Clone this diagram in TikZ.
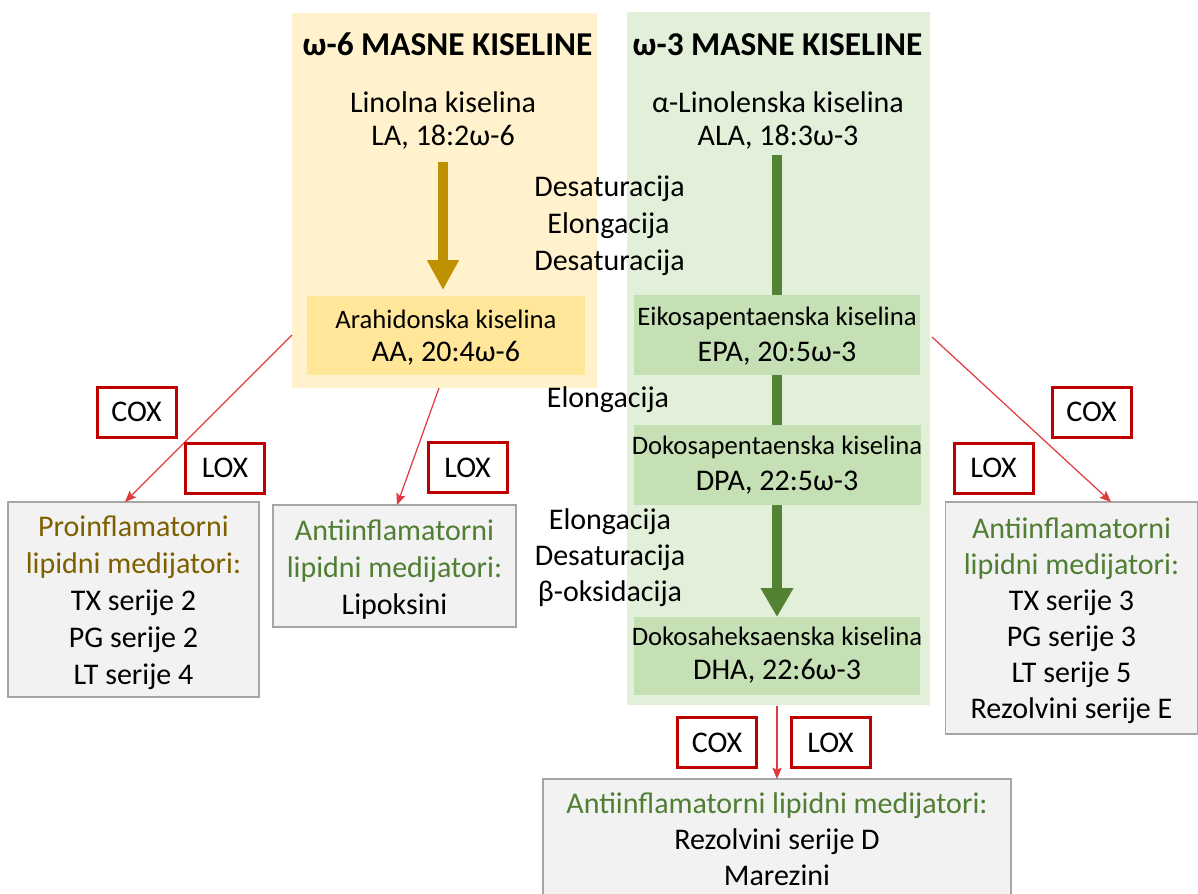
\documentclass[tikz,border=0pt]{standalone}
\usepackage{fontspec}
\setmainfont{Carlito}
\usetikzlibrary{arrows.meta,calc}
\definecolor{orbg}{HTML}{FFF2CC}
\definecolor{grbg}{HTML}{E2F0D9}
\definecolor{orbox}{HTML}{FFE699}
\definecolor{grbox}{HTML}{C5E0B4}
\definecolor{orarrow}{HTML}{BF9000}
\definecolor{grarrow}{HTML}{548235}
\definecolor{redarr}{HTML}{E0393E}
\definecolor{enzred}{HTML}{C00000}
\definecolor{graybox}{HTML}{F2F2F2}
\definecolor{grayline}{HTML}{A6A6A6}
\definecolor{protext}{HTML}{7F6000}
\definecolor{antitext}{HTML}{507E32}
\newcommand\fbig{\fontsize{22.5pt}{27.75pt}\selectfont}
\newcommand\fsmall{\fontsize{20pt}{24pt}\selectfont}
\newcommand\ftitle{\fontsize{25pt}{30pt}\selectfont\bfseries}
\begin{document}
\begin{tikzpicture}[x=0.75pt,y=-0.75pt,
  txt/.style={inner sep=0pt, outer sep=0pt, font=\fbig, text height=16.9pt, text depth=2.5pt},
  txts/.style={inner sep=0pt, outer sep=0pt, font=\fsmall, text height=15pt, text depth=2.2pt},
  ttl/.style={inner sep=0pt, outer sep=0pt, font=\ftitle, text height=18.75pt, text depth=2.75pt},
  region/.style={rectangle, inner sep=0pt, outer sep=0pt},
  medbox/.style={rectangle, draw=grayline, line width=1.2pt, fill=graybox, inner sep=0pt, outer sep=0pt},
  medtext/.style={inner sep=0pt, outer sep=0pt, align=center, font=\fbig},
  enz/.style={rectangle, draw=enzred, line width=2.25pt, fill=white, minimum width=59.25pt, minimum height=37.5pt, inner sep=0pt, outer sep=0pt, font=\fbig},
  orshaft/.style={draw=orarrow, line width=7.5pt, -{Triangle[length=22.5pt,width=22.5pt]}},
  grshaft/.style={draw=grarrow, line width=7.5pt},
  grarrowhead/.style={draw=grarrow, line width=7.5pt, -{Triangle[length=21.75pt,width=23.25pt]}},
  redconn/.style={draw=redarr, line width=0.9pt, -{Stealth[length=8.5pt,width=7pt,inset=1.5pt]}}
]
\fill[white] (0,0) rectangle (1198,893);
\useasboundingbox (0,0) rectangle (1198,893);

% background regions
\node[region, fill=orbg, minimum width=228.75pt, minimum height=281.25pt] (w6bg) at (444.5,200.5) {};
\node[region, fill=grbg, minimum width=227.25pt, minimum height=519.75pt] (w3bg) at (778.5,358.5) {};

% acid boxes
\node[region, fill=orbox, minimum width=208.5pt, minimum height=59.25pt] (aabox) at (446,335.5) {};
\node[region, fill=grbox, minimum width=214.5pt, minimum height=60pt] (epabox) at (777,335) {};
\node[region, fill=grbox, minimum width=215.25pt, minimum height=60pt] (dpabox) at (777,465) {};
\node[region, fill=grbox, minimum width=214.5pt, minimum height=58.5pt] (dhabox) at (777,656) {};

% titles
\node[ttl] (t6) at (447.5,45) {ω-6 MASNE KISELINE};
\node[ttl] (t3) at (777.5,45) {ω-3 MASNE KISELINE};

% acid texts
\node[txt] (la1) at (443,103) {Linolna kiselina};
\node[txt] (la2) at (443,136) {LA, 18:2ω-6};
\node[txt] (ala1) at (778,103) {α-Linolenska kiselina};
\node[txt] (ala2) at (778,136) {ALA, 18:3ω-3};
\node[txts] (aa1) at (446,320) {Arahidonska kiselina};
\node[txt] (aa2) at (446,352) {AA, 20:4ω-6};
\node[txts] (epa1) at (777,317) {Eikosapentaenska kiselina};
\node[txt] (epa2) at (777,352) {EPA, 20:5ω-3};
\node[txts] (dpa1) at (777,446) {Dokosapentaenska kiselina};
\node[txt] (dpa2) at (777,481) {DPA, 22:5ω-3};
\node[txts] (dha1) at (777,637) {Dokosaheksaenska kiselina};
\node[txt] (dha2) at (777,670) {DHA, 22:6ω-3};

% thick pathway arrows
\draw[orshaft] ($(la2.south)+(0,13)$) -- ($(aabox.north -| la2.south)+(0,-6)$);
\draw[grshaft] ($(epabox.north |- ala2.south)+(0,6)$) -- (epabox.north);
\draw[grshaft] (epabox.south) -- (dpabox.north);
\draw[grarrowhead] (dpabox.south) -- (dhabox.north);

% step labels
\node[txt] (lb1) at (609.5,187) {Desaturacija};
\node[txt] (lb2) at (608.5,224) {Elongacija};
\node[txt] (lb3) at (609.5,261) {Desaturacija};
\node[txt] (lb4) at (608,398) {Elongacija};
\node[txt] (lb5) at (610,520) {Elongacija};
\node[txt] (lb6) at (610,556) {Desaturacija};
\node[txt] (lb7) at (610,592) {β-oksidacija};

% mediator boxes
\node[medbox, minimum width=188.25pt, minimum height=146.25pt] (pro) at (133.5,599.5) {};
\node[medtext] (protxt) at ($(pro.center)+(0,3)$)
  {\color{protext}Proinflamatorni\\\color{protext}lipidni medijatori:\\TX serije 2\\PG serije 2\\LT serije 4\vphantom{j}};
\node[medbox, minimum width=182.25pt, minimum height=91.5pt] (lip) at (394.5,566) {};
\node[medtext] (liptxt) at ($(lip.center)+(0,4)$)
  {\color{antitext}Antiinflamatorni\\\color{antitext}lipidni medijatori:\\Lipoksini\vphantom{j}};
\node[medbox, minimum width=189pt, minimum height=174pt] (rbox) at (1071.5,618) {};
\node[medtext, font=\fontsize{22.5pt}{27pt}\selectfont] (rtxt) at ($(rbox.center)+(0,3)$)
  {\color{antitext}Antiinflamatorni\\\color{antitext}lipidni medijatori:\\TX serije 3\\PG serije 3\\LT serije 5\\Rezolvini serije E};
\node[medbox, minimum width=351pt, minimum height=90pt] (bbox) at (777,839) {};
\node[medtext, font=\fontsize{22.5pt}{27pt}\selectfont] (btxt) at ($(bbox.center)+(0,3)$)
  {\color{antitext}Antiinflamatorni lipidni medijatori:\\Rezolvini serije D\\Marezini\vphantom{j}};

% connector start points
\coordinate (s1) at (292,335);
\coordinate (s2) at (439,388);
\coordinate (s3) at (932,337);
\coordinate (s4) at (777,706);

% red connectors
\draw[redconn] (s1) -- ($(pro.north west)!0.466!(pro.north east)$);
\draw[redconn] (s2) -- ($(lip.north)+(2.5,0)$);
\draw[redconn] (s3) -- ($(rbox.north west)!0.657!(rbox.north east)$);
\draw[redconn] (s4) -- (bbox.north);

% enzyme boxes
\node[enz] (cox1) at (136.5,412) {COX};
\node[enz] (lox1) at (225,468) {LOX};
\node[enz] (lox2) at (467.5,467.5) {LOX};
\node[enz] (cox3) at (1091.5,412) {COX};
\node[enz] (lox3) at (993.5,468) {LOX};
\node[enz] (cox4) at (717,742.5) {COX};
\node[enz] (lox4) at (830.5,742.5) {LOX};
\end{tikzpicture}
\end{document}
